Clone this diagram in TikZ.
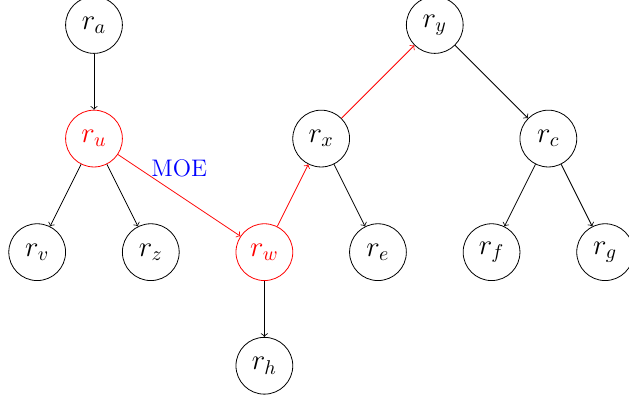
\documentclass[tikz,border=0pt]{standalone}
\usepackage{xcolor}
\usepackage{amsmath, amssymb}
\usepackage{tikz}
\usetikzlibrary{positioning}

\begin{document}
\begin{tikzpicture}[vert/.style={circle,draw,minimum size=1cm,font=\Large}]
			\useasboundingbox (-1.655,0.44) rectangle (9.42,-6.64);
			
			\node[vert] (ra) at (0,0) {$r_a$};
			\node[vert,red] (ru) at (0,-2) {$r_u$};
			\node[vert] (rv) at (-1,-4) {$r_v$};
			\node[vert] (rz) at (1,-4) {$r_z$};
			\node[vert,red] (rw) at (3,-4) {$r_w$};
			\node[vert] (rh) at (3,-6) {$r_h$};
			\node[vert] (rx) at (4,-2) {$r_x$};
			\node[vert] (re) at (5,-4) {$r_e$};
			\node[vert] (ry) at (6,0) {$r_y$};
			\node[vert] (rc) at (8,-2) {$r_c$};
			\node[vert] (rf) at (7,-4) {$r_f$};
			\node[vert] (rg) at (9,-4) {$r_g$};
			
			\draw[->] (ra)--(ru);
			\draw[->] (ru)--(rv);
			\draw[->] (ru)--(rz);
			\draw[->,red] (ru)-- node[above=5.5pt,blue,font=\large]{MOE} (rw);
			\draw[->] (rw)--(rh);
			\draw[->,red] (rw)--(rx);
			\draw[->] (rx)--(re);
			\draw[->,red] (rx)--(ry);
			\draw[->] (ry)--(rc);
			\draw[->] (rc)--(rf);
			\draw[->] (rc)--(rg);
			
		\end{tikzpicture}
\end{document}
